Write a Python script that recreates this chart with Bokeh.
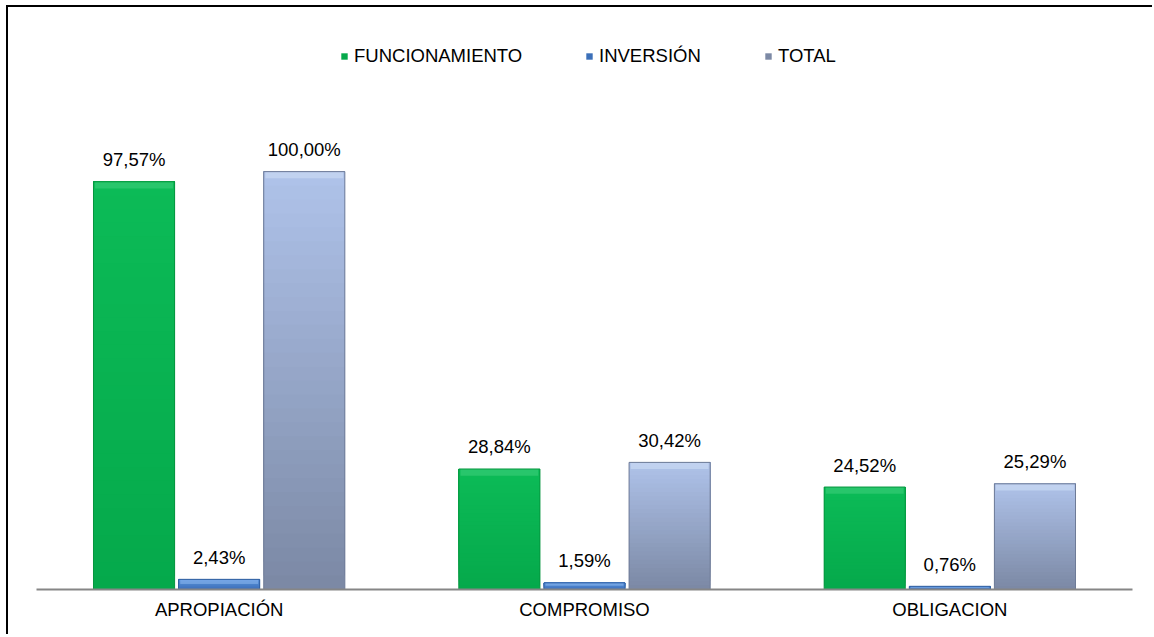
from bokeh.plotting import figure
from bokeh.models import (ColumnDataSource, FactorRange, Range1d, Legend, LegendItem)
from bokeh.transform import dodge
from bokeh.core.properties import value
from bokeh.embed import file_html
from bokeh.resources import INLINE

categories = ["APROPIACIÓN", "COMPROMISO", "OBLIGACION"]
funcionamiento = [97.57, 28.84, 24.52]
inversion = [2.43, 1.59, 0.76]
total = [100.00, 30.42, 25.29]
series_names = ["FUNCIONAMIENTO", "INVERSIÓN", "TOTAL"]

FONT = "Liberation Sans"

p = figure(width=1146, height=629, x_range=FactorRange(*categories, range_padding=0),
           y_range=Range1d(0, 138.8), output_backend="svg", toolbar_location=None,
           min_border_left=28, min_border_right=22, min_border_bottom=47, min_border_top=2)
p.styles = {"border-left": "2px solid black", "border-top": "2px solid black",
            "margin-left": "6px", "margin-top": "5px"}
p.outline_line_color = None
p.xgrid.visible = False
p.ygrid.visible = False
p.yaxis.visible = False
p.xaxis.axis_line_color = "#868686"
p.xaxis.axis_line_width = 2
p.xaxis.major_tick_line_color = None
p.xaxis.minor_tick_line_color = None
p.xaxis.major_label_text_font = FONT
p.xaxis.major_label_text_font_size = "18.5px"
p.xaxis.major_label_text_color = "#000000"
p.xaxis.major_label_standoff = 3


def hex2rgb(h):
    h = h.lstrip("#")
    return tuple(int(h[i:i + 2], 16) for i in (0, 2, 4))


def mix(c1, c2, t):
    a, b = hex2rgb(c1), hex2rgb(c2)
    return "#%02x%02x%02x" % tuple(int(round(a[i] + (b[i] - a[i]) * t)) for i in range(3))


offsets = [-0.233, 0.0, 0.233]
W = 0.222
styles = [
    # bottom color, top color, outline, highlight
    ("#05A94B", "#0CBB57", "#06963F", "#3FCF7E"),
    ("#3C6FB8", "#5A92DC", "#2F5E9F", "#8DB8EE"),
    ("#7B88A4", "#AFC3EA", "#6E7B97", "#D2E0F5"),
]
data_series = [funcionamiento, inversion, total]
N = 30
legend_renderers = []
for si, (vals, off, st) in enumerate(zip(data_series, offsets, styles)):
    x = dodge("cat", off, range=p.x_range)
    main = None
    for k in range(N):
        src = ColumnDataSource(dict(cat=categories,
                                    bot=[v * k / N for v in vals],
                                    top=vals))
        r = p.vbar(x=x, bottom="bot", top="top", width=W, source=src,
                   fill_color=mix(st[0], st[1], (k + 0.5) / N), line_color=None)
        if main is None:
            main = r
    # top highlight band
    hsrc = ColumnDataSource(dict(cat=categories,
                                 bot=[v - min(1.6, v * 0.45) for v in vals],
                                 top=vals))
    p.vbar(x=x, bottom="bot", top="top", width=W * 0.96, source=hsrc,
           fill_color=st[3], fill_alpha=0.55, line_color=None)
    osrc = ColumnDataSource(dict(cat=categories, top=vals))
    p.vbar(x=x, top="top", bottom=0, width=W, source=osrc,
           fill_color=None, line_color=st[2], line_width=1)
    lsrc = ColumnDataSource(dict(cat=categories, top=vals,
                                 lbl=[f"{v:.2f}".replace(".", ",") + "%" for v in vals]))
    p.text(x=x, y="top", text="lbl", source=lsrc, text_align="center",
           text_baseline="alphabetic", y_offset=-22, text_font=value(FONT),
           text_font_size="18.5px", text_color="#000000")
    legend_renderers.append(main)

# legends (screen positions relative to frame)
leg_x = [304, 549, 728]
for name, r, lx in zip(series_names, legend_renderers, leg_x):
    leg = Legend(items=[LegendItem(label=name, renderers=[r])], location=(lx, 522),
                 orientation="horizontal", glyph_width=8, glyph_height=8,
                 label_standoff=6, padding=0, margin=0, spacing=0,
                 border_line_color=None, background_fill_alpha=0,
                 label_text_font=FONT, label_text_font_size="18.5px",
                 label_text_color="#000000")
    p.add_layout(leg, "center")

open("out.html", "w").write(file_html(p, INLINE))
